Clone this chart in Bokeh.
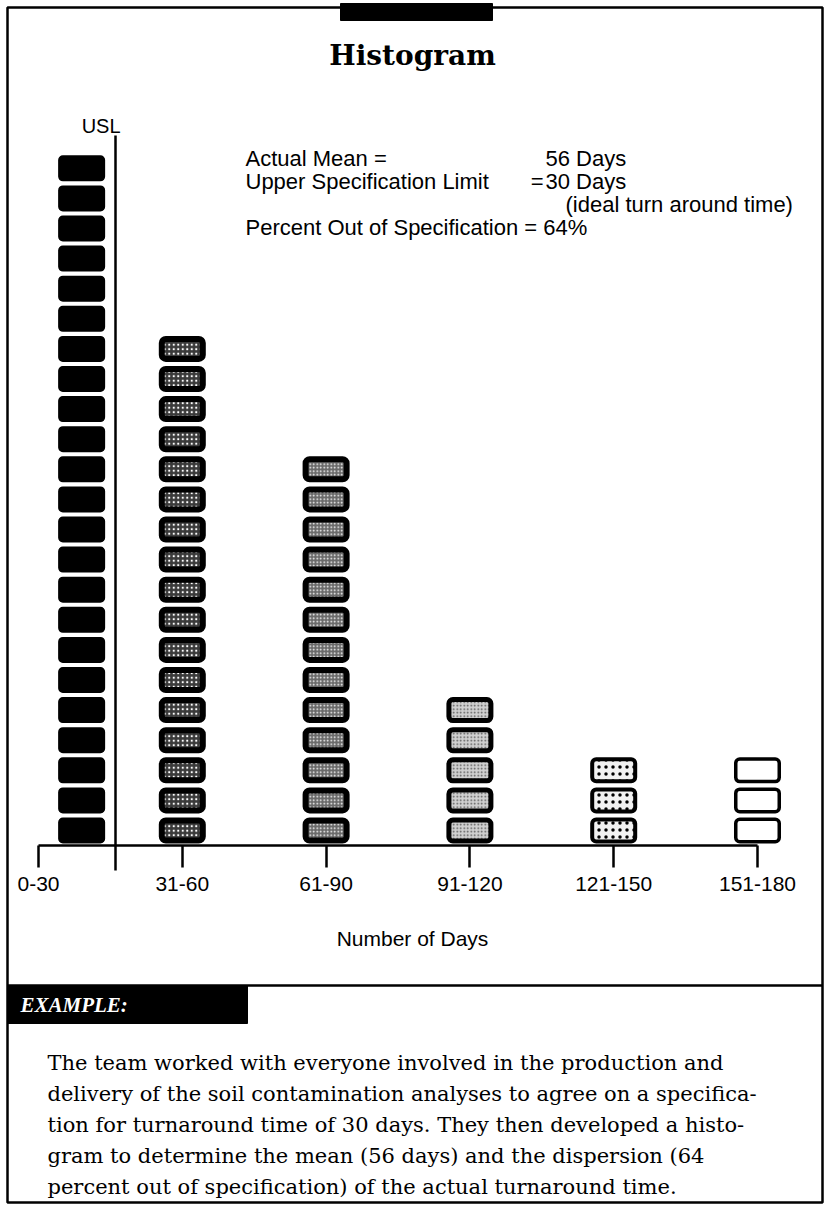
from bokeh.plotting import figure
from bokeh.models import Range1d, LinearAxis, FixedTicker, ColumnDataSource
from bokeh.core.properties import value
from bokeh.embed import file_html
from bokeh.resources import INLINE

# ---------------- data ----------------
categories = ["0-30", "31-60", "61-90", "91-120", "121-150", "151-180"]
counts = [23, 17, 13, 5, 3, 3]
mean_days = 56
usl_days = 30
chart_title = "Histogram"
x_title = "Number of Days"
example_lines = [
    "The team worked with everyone involved in the production and",
    "delivery of the soil contamination analyses to agree on a specifica-",
    "tion for turnaround time of 30 days. They then developed a histo-",
    "gram to determine the mean (56 days) and the dispersion (64",
    "percent out of specification) of the actual turnaround time.",
]

pct_out = round(100 * sum(counts[1:]) / sum(counts))

# ---------------- layout helpers (pixel -> data) ----------------
W, H = 825, 1206
X0, SX = 38.0, 143.8   # pixel of category 0, pixels per category
Y0, SY = 845.0, 30.1   # pixel of count 0, pixels per count


def dx(px):
    return (px - X0) / SX


def dy(py):
    return (Y0 - py) / SY


p = figure(width=W, height=H, output_backend="svg", toolbar_location=None,
           x_range=Range1d(dx(0), dx(W)), y_range=Range1d(dy(H), dy(0)),
           x_axis_location=None, y_axis_location=None, min_border=0)
for g in p.grid:
    g.visible = False
p.outline_line_color = None
p.background_fill_color = "white"
p.border_fill_color = "white"

SANS = value("Liberation Sans")
SERIF = value("DejaVu Serif")

# ---------------- frame decorations ----------------
p.quad(left=[dx(7)], right=[dx(822)], top=[dy(7)], bottom=[dy(1202)],
       fill_color=None, line_color="black", line_width=2.5)
p.quad(left=[dx(340)], right=[dx(492)], top=[dy(3)], bottom=[dy(20)],
       fill_color="black", line_color="black")
p.segment(x0=[dx(7)], x1=[dx(822)], y0=[dy(985)], y1=[dy(985)],
          line_color="black", line_width=2.5)
p.quad(left=[dx(7)], right=[dx(247)], top=[dy(985)], bottom=[dy(1023)],
       fill_color="black", line_color="black")

p.text(x=[dx(412)], y=[dy(55)], text=[chart_title], text_font=SERIF,
       text_font_style="bold", text_font_size="28px", text_align="center",
       text_baseline="middle", text_color="black")

# ---------------- histogram blocks ----------------
bar_x = [0.30] + list(range(1, len(categories)))
styles = [
    dict(lw=1.5, fill="black", hatch=None, hcolor=None, hscale=None, hweight=None),
    dict(lw=6.0, fill="#3a3a3a", hatch="dot", hcolor="white", hscale=4.5, hweight=1.0),
    dict(lw=6.0, fill="#6a6a6a", hatch="dot", hcolor="white", hscale=3.5, hweight=1.2),
    dict(lw=5.0, fill="#d0d0d0", hatch="dot", hcolor="#555555", hscale=3.5, hweight=1.0),
    dict(lw=4.0, fill="#f2f2f2", hatch="dot", hcolor="black", hscale=7.0, hweight=1.2),
    dict(lw=3.5, fill="white", hatch=None, hcolor=None, hscale=None, hweight=None),
]
BLOCK_W = 47.0
for xc, n, st in zip(bar_x, counts, styles):
    hw = (BLOCK_W - st["lw"]) / 2 / SX
    inset = st["lw"] / 2 / SY
    src = ColumnDataSource(dict(
        left=[xc - hw] * n, right=[xc + hw] * n,
        bottom=[k + 0.066 + inset for k in range(n)],
        top=[k + 0.93 - inset for k in range(n)],
    ))
    kw = dict(fill_color=st["fill"], line_color="black", line_width=st["lw"],
              border_radius=4)
    if st["hatch"]:
        kw.update(hatch_pattern=st["hatch"], hatch_color=st["hcolor"],
                  hatch_scale=st["hscale"], hatch_weight=st["hweight"])
    p.quad(left="left", right="right", bottom="bottom", top="top", source=src, **kw)

# ---------------- USL line ----------------
usl_x = dx(115)
p.segment(x0=[usl_x], x1=[usl_x], y0=[dy(870)], y1=[dy(135)],
          line_color="black", line_width=2.5)
p.text(x=[usl_x - 0.1], y=[dy(125)], text=["USL"], text_font=SANS,
       text_font_size="20px", text_align="center", text_baseline="middle")

# ---------------- annotation text ----------------
fs = "22px"
p.text(x=[dx(245)], y=[dy(158)], text=["Actual Mean ="], text_font=SANS,
       text_font_size=fs, text_baseline="middle")
p.text(x=[dx(545)], y=[dy(158)], text=[f"{mean_days} Days"], text_font=SANS,
       text_font_size=fs, text_baseline="middle")
p.text(x=[dx(245)], y=[dy(181)], text=["Upper Specification Limit"], text_font=SANS,
       text_font_size=fs, text_baseline="middle")
p.text(x=[dx(543)], y=[dy(181)], text=["="], text_font=SANS,
       text_font_size=fs, text_baseline="middle", text_align="right")
p.text(x=[dx(545)], y=[dy(181)], text=[f"{usl_days} Days"], text_font=SANS,
       text_font_size=fs, text_baseline="middle")
p.text(x=[dx(565)], y=[dy(204)], text=["(ideal turn around time)"], text_font=SANS,
       text_font_size=fs, text_baseline="middle")
p.text(x=[dx(245)], y=[dy(227)], text=[f"Percent Out of Specification = {pct_out}%"],
       text_font=SANS, text_font_size=fs, text_baseline="middle")

# ---------------- x axis ----------------
ax = LinearAxis(fixed_location=0, bounds=(0, len(categories) - 1),
                ticker=FixedTicker(ticks=list(range(len(categories)))),
                major_label_overrides={i: c for i, c in enumerate(categories)})
ax.axis_line_width = 2.5
ax.major_tick_line_width = 2.5
ax.major_tick_out = 22
ax.major_tick_in = 0
ax.minor_tick_line_color = None
ax.major_label_standoff = 9
ax.major_label_text_font = "Liberation Sans"
ax.major_label_text_font_size = "21px"
ax.major_label_text_color = "black"
p.add_layout(ax, "below")

p.text(x=[dx(412)], y=[dy(938)], text=[x_title], text_font=SANS,
       text_font_size="21px", text_align="center", text_baseline="middle",
       text_color="black")

# ---------------- example box ----------------
p.text(x=[dx(20)], y=[dy(1004)], text=["EXAMPLE:"], text_font=value("Liberation Serif"),
       text_font_style="bold italic", text_font_size="21px", text_color="white",
       text_baseline="middle")
p.text(x=[dx(47)] * len(example_lines),
       y=[dy(1062 + 31 * i) for i in range(len(example_lines))],
       text=example_lines, text_font=SERIF, text_font_size="21px",
       text_baseline="middle", text_color="black")

open("out.html", "w").write(file_html(p, INLINE))
